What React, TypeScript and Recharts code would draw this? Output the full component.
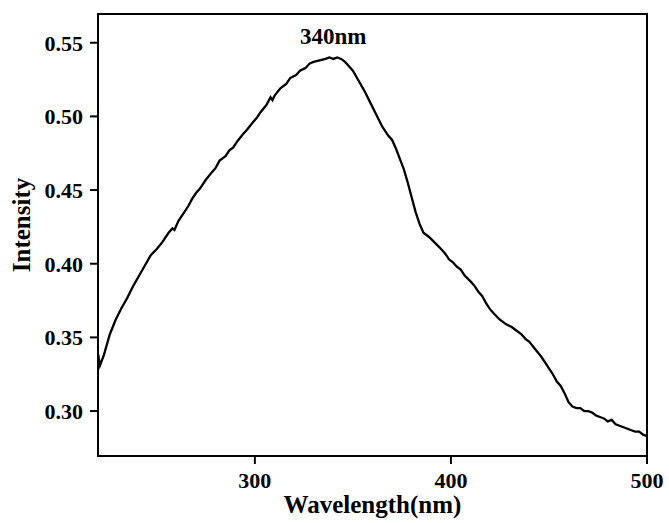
import { LineChart, Line, XAxis, YAxis, ReferenceArea, ReferenceDot } from 'recharts'

const wavelengths = [
  220, 221, 223, 226, 229, 232, 235, 238, 241, 244, 247, 250, 253, 256, 258, 259, 261, 263, 266, 268,
  270, 272, 275, 278, 280, 282, 285, 287, 289, 291, 294, 296, 299, 301, 303, 306, 308, 309, 310, 313,
  316, 318, 321, 323, 326, 328, 330, 333, 336, 338, 340, 342, 344, 346, 348, 350, 353, 356, 359, 362,
  365, 368, 370, 372, 374, 376, 378, 380, 382, 384, 386, 389, 392, 395, 397, 399, 401, 403, 405, 407,
  410, 412, 414, 416, 418, 420, 422, 425, 428, 431, 433, 436, 438, 440, 443, 446, 448, 450, 452, 454,
  456, 458, 460, 462, 464, 466, 468, 470, 472, 474, 476, 478, 480, 482, 484, 486, 488, 490, 492, 494,
  496, 498, 500,
]

const intensities = [
  0.339, 0.331, 0.338, 0.352, 0.362, 0.370, 0.377, 0.385, 0.392, 0.399, 0.406, 0.410, 0.415, 0.421, 0.424, 0.423, 0.429, 0.433, 0.439, 0.444,
  0.448, 0.451, 0.457, 0.462, 0.465, 0.470, 0.473, 0.477, 0.479, 0.483, 0.488, 0.491, 0.496, 0.499, 0.503, 0.508, 0.513, 0.511, 0.514, 0.519,
  0.522, 0.526, 0.528, 0.531, 0.533, 0.536, 0.537, 0.538, 0.539, 0.540, 0.539, 0.540, 0.539, 0.537, 0.534, 0.531, 0.524, 0.517, 0.509, 0.501,
  0.493, 0.487, 0.484, 0.478, 0.471, 0.464, 0.455, 0.445, 0.435, 0.427, 0.421, 0.418, 0.414, 0.410, 0.407, 0.403, 0.401, 0.398, 0.396, 0.392,
  0.388, 0.385, 0.381, 0.378, 0.373, 0.369, 0.366, 0.362, 0.359, 0.357, 0.355, 0.352, 0.349, 0.347, 0.342, 0.337, 0.333, 0.329, 0.325, 0.320,
  0.317, 0.312, 0.306, 0.303, 0.302, 0.302, 0.300, 0.300, 0.299, 0.297, 0.296, 0.295, 0.293, 0.294, 0.291, 0.290, 0.289, 0.288, 0.287, 0.286,
  0.286, 0.284, 0.283,
]

const xTicks = [300, 400, 500]
const yTicks = [0.30, 0.35, 0.40, 0.45, 0.50, 0.55]
const xDomain = [220, 500]
const yDomain = [0.2695, 0.5695]
const peakLabel = '340nm'
const peak = { x: 340, y: 0.540 }

const data = wavelengths.map((w, i) => ({ w, v: intensities[i] }))

const FONT = '"Liberation Serif", "Times New Roman", serif'
const tickStyle = { fontSize: 22, fontWeight: 700, fontFamily: FONT, fill: '#000' }

export default function App() {
  return (
    <div style={{ width: 669, height: 523, background: '#fff' }}>
      <style>{'body{margin:0}'}</style>
      <LineChart width={669} height={523} data={data} margin={{ top: 14, right: 22, bottom: 0, left: 0 }}>
        <XAxis
          dataKey="w"
          type="number"
          domain={xDomain}
          ticks={xTicks}
          height={67}
          tick={tickStyle}
          tickSize={8}
          tickMargin={8}
          stroke="#000"
          strokeWidth={2}
          allowDataOverflow
          label={({ viewBox }: any) => (
            <text x={viewBox.x + viewBox.width / 2} y={viewBox.y + 57} textAnchor="middle"
              style={{ fontSize: 25, fontWeight: 700, fontFamily: FONT }} fill="#000">
              Wavelength(nm)
            </text>
          )}
        />
        <YAxis
          type="number"
          domain={yDomain}
          ticks={yTicks}
          width={98}
          tick={tickStyle}
          tickSize={8}
          tickMargin={7}
          tickFormatter={(v) => v.toFixed(2)}
          stroke="#000"
          strokeWidth={2}
          allowDataOverflow
          label={({ viewBox }: any) => {
            const cy = viewBox.y + viewBox.height / 2 - 10
            return (
              <text x={30} y={cy} textAnchor="middle" transform={`rotate(-90 30 ${cy})`}
                style={{ fontSize: 25, fontWeight: 700, fontFamily: FONT }} fill="#000">
                Intensity
              </text>
            )
          }}
        />
        <ReferenceArea x1={xDomain[0]} x2={xDomain[1]} y1={yDomain[0]} y2={yDomain[1]}
          fill="none" stroke="#000" strokeWidth={2} fillOpacity={0} />
        <Line dataKey="v" stroke="#000" strokeWidth={2.3} dot={false} isAnimationActive={false} type="linear" />
        <ReferenceDot x={peak.x} y={peak.y} r={0} stroke="none" fill="none"
          label={{ value: peakLabel, position: 'top', offset: 13, fontSize: 23, fontWeight: 700, fontFamily: FONT, fill: '#000' }} />
      </LineChart>
    </div>
  )
}
